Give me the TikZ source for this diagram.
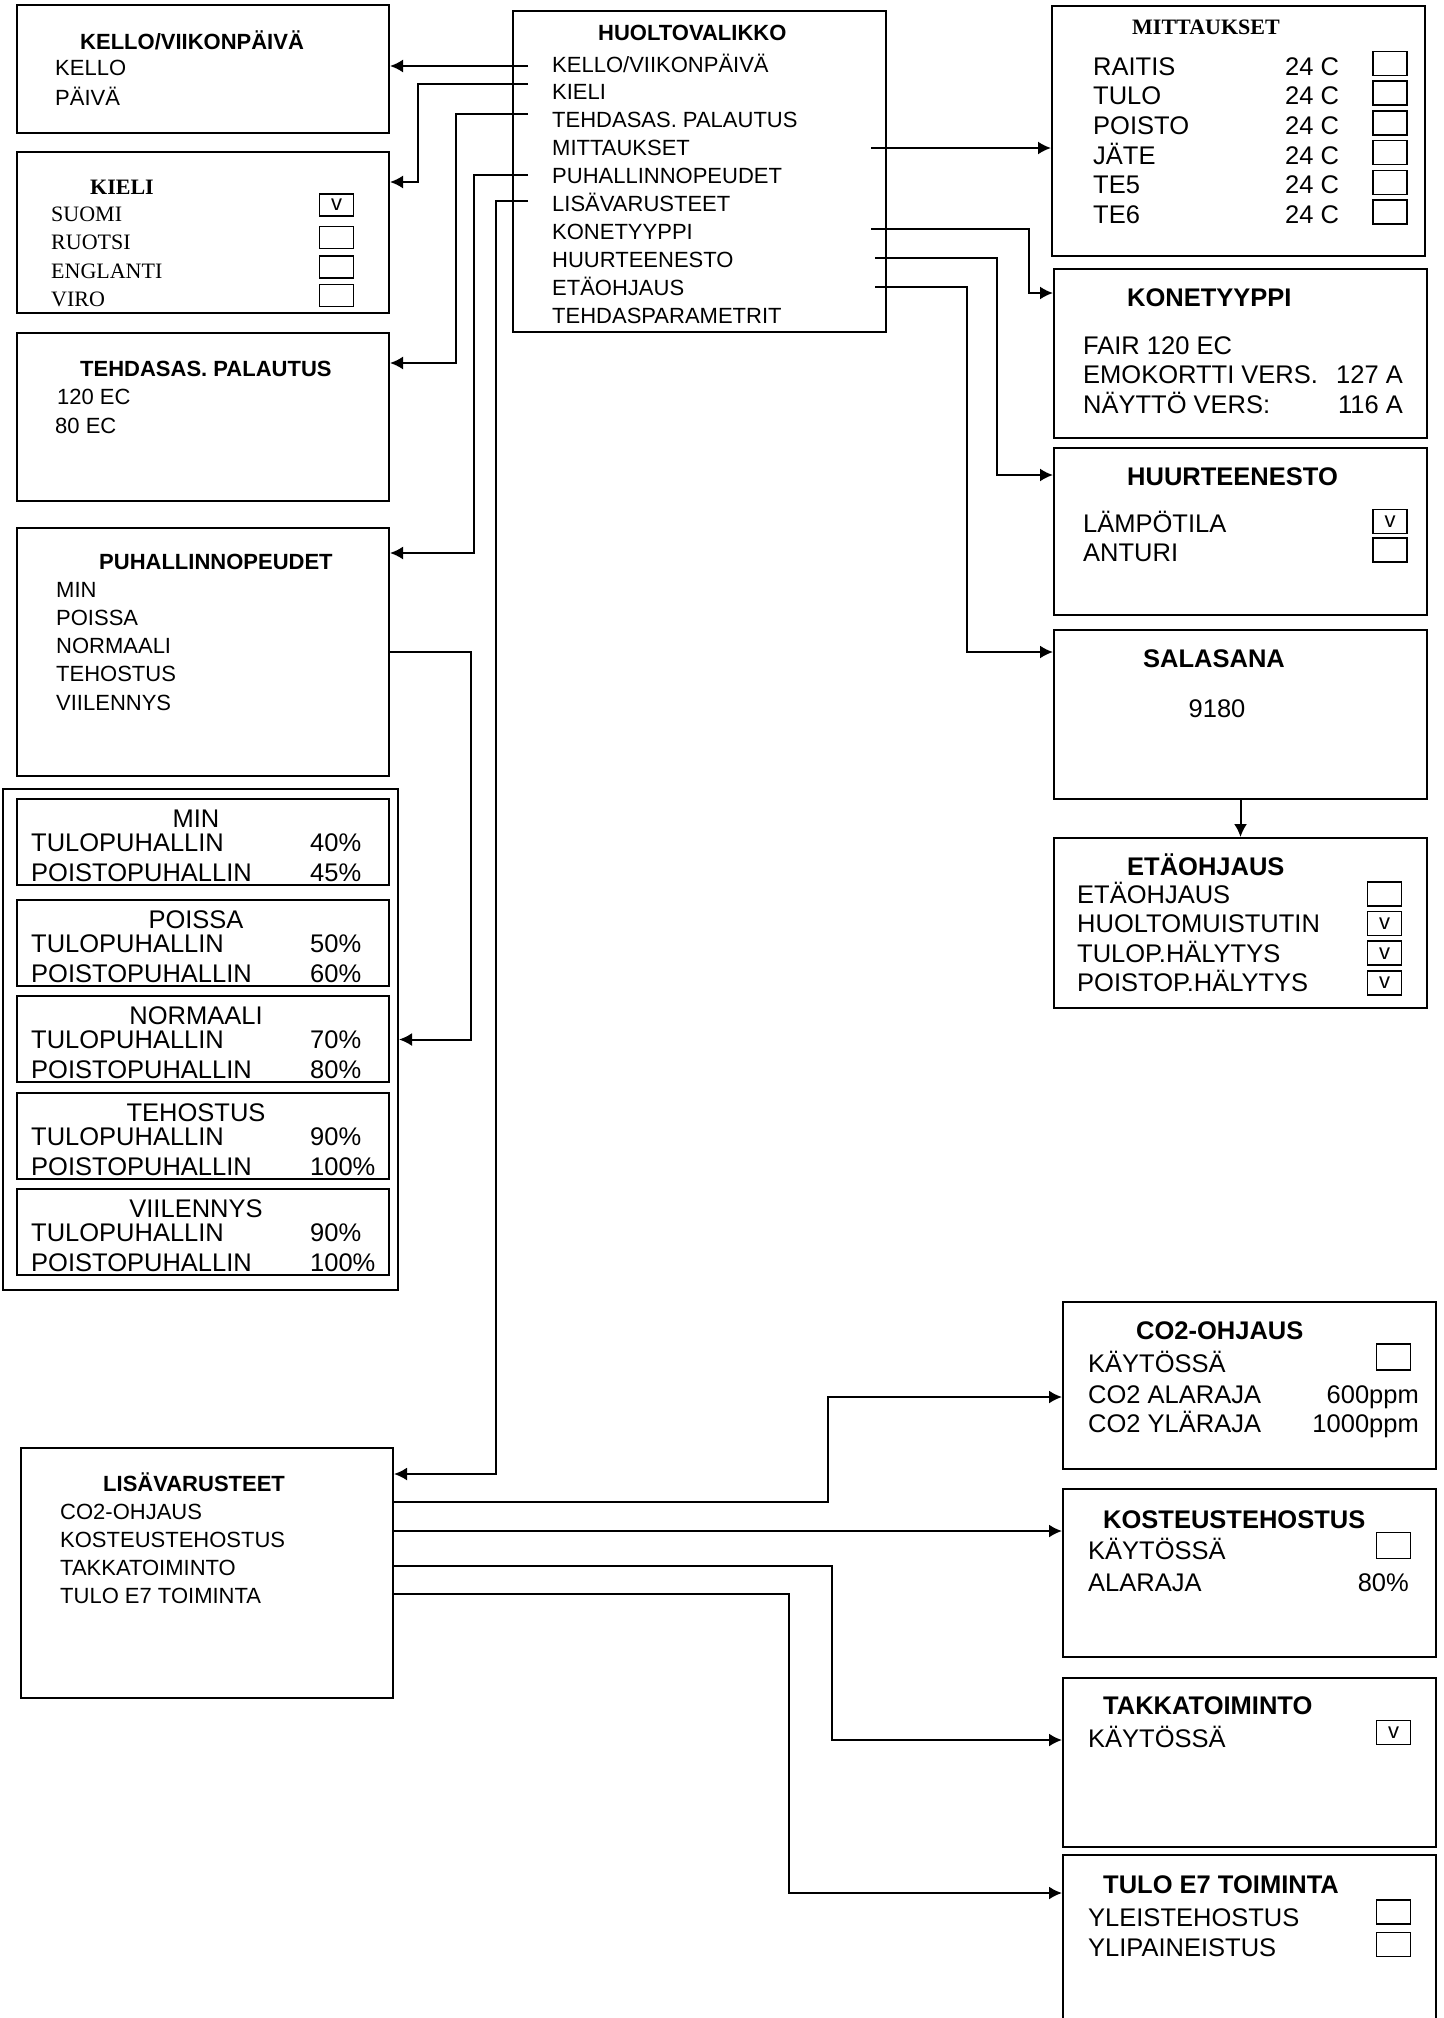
\documentclass[tikz,border=0pt]{standalone}
\usepackage{fontspec}
\setmainfont{Liberation Sans}
\newfontfamily\tms{Liberation Serif}
\usetikzlibrary{arrows.meta}

\tikzset{
	box/.style={draw,line width=2pt,inner sep=0pt},
	chk/.style={draw,line width=1.6pt,minimum width=34pt,minimum height=24pt,inner sep=0pt,font=\fontsize{22}{22}\selectfont},
	sm/.style={anchor=base west,inner sep=0pt,font=\fontsize{22}{26}\selectfont},
	lg/.style={anchor=base west,inner sep=0pt,font=\fontsize{25.5}{30}\selectfont},
	smt/.style={sm,font=\fontsize{22}{26}\selectfont\bfseries},
	lgt/.style={lg,font=\fontsize{25.5}{30}\selectfont\bfseries},
	ser/.style={sm,font=\fontsize{22}{26}\selectfont\tms},
	sert/.style={sm,font=\fontsize{22}{26}\selectfont\tms\bfseries},
	arr/.style={line width=2pt,-{Latex[length=13pt,width=13pt]}},
}

\begin{document}
\begin{tikzpicture}[x=1pt,y=-1pt]
	\useasboundingbox (0,0) rectangle (1443,2018);
	\begin{scope}
		\node[box,minimum width=372pt,minimum height=128pt] (kello) at (203,69) {};
		\node[smt] (kelloT) at (80,49) {KELLO/VIIKONPÄIVÄ};
		\node[sm] (kello1) at (55,76) {KELLO};
		\node[sm] (kello2) at (55,105) {PÄIVÄ};
		%
		\node[box,minimum width=372pt,minimum height=161pt] (kieli) at (203,232.5) {};
		\node[sert] (kieliT) at (90,194) {KIELI};
		\foreach \T/\Y [count=\i] in {SUOMI/221,RUOTSI/249,ENGLANTI/278,VIRO/306}
			\node[ser] (kieli\i) at (51,\Y) {\T};
		\foreach \Y/\V [count=\i] in {205/v,237.5/{},267/{},295.5/{}}
			\node[chk,minimum height=22pt] (kieliC\i) at (336.5,\Y) {\V};
		%
		\node[box,minimum width=372pt,minimum height=168pt] (tehdas) at (203,417) {};
		\node[smt] (tehdasT) at (80,376) {TEHDASAS. PALAUTUS};
		\node[sm] (tehdas1) at (57,404) {120 EC};
		\node[sm] (tehdas2) at (55,433) {80 EC};
		%
		\node[box,minimum width=372pt,minimum height=248pt] (puhal) at (203,652) {};
		\node[smt] (puhalT) at (99,569) {PUHALLINNOPEUDET};
		\foreach \T [count=\i from 0] in {MIN,POISSA,NORMAALI,TEHOSTUS,VIILENNYS}
			\node[sm] (puhal\i) at (56,597+28.25*\i) {\T};
		%
		\node[box,minimum width=395pt,minimum height=501pt] (speeds) at (200.5,1039.5) {};
		\foreach \N/\T/\A/\B [count=\i] in {MIN/799/40/45,POISSA/900/50/60,NORMAALI/996/70/80,TEHOSTUS/1093/90/100,VIILENNYS/1189/90/100}{
			\node[box,minimum width=372pt,minimum height=86pt] (sp\i) at (203,\T+43) {};
			\node[lg,anchor=base] (spT\i) at (196,\T+28) {\N};
			\node[lg] (spA\i) at (31,\T+52) {TULOPUHALLIN};
			\node[lg] (spB\i) at (31,\T+82) {POISTOPUHALLIN};
			\node[lg] (spAv\i) at (310,\T+52) {\A\%};
			\node[lg] (spBv\i) at (310,\T+82) {\B\%};
		}
		%
		\node[box,minimum width=372pt,minimum height=250pt] (lisa) at (207,1573) {};
		\node[smt] (lisaT) at (103,1491) {LISÄVARUSTEET};
		\foreach \T [count=\i from 0] in {CO2-OHJAUS,KOSTEUSTEHOSTUS,TAKKATOIMINTO,TULO E7 TOIMINTA}
			\node[sm] (lisa\i) at (60,1519+28*\i) {\T};
	\end{scope}
	\begin{scope}
		\node[box,minimum width=373pt,minimum height=321pt] (menu) at (699.5,171.5) {};
		\node[smt] (menuT) at (598,41) {HUOLTOVALIKKO};
		\foreach \T [count=\i from 0] in {KELLO/VIIKONPÄIVÄ,KIELI,TEHDASAS. PALAUTUS,MITTAUKSET,PUHALLINNOPEUDET,LISÄVARUSTEET,KONETYYPPI,HUURTEENESTO,ETÄOHJAUS,TEHDASPARAMETRIT}
			\node[sm] (menu\i) at (552,72+27.9*\i) {\T};
	\end{scope}
	\begin{scope}
		\node[box,minimum width=373pt,minimum height=250pt] (mitt) at (1238.5,131) {};
		\node[sert] (mittT) at (1132,35) {MITTAUKSET};
		\foreach \T [count=\i from 0] in {RAITIS,TULO,POISTO,JÄTE,TE5,TE6}{
			\node[lg] (mitt\i) at (1093,75+29.7*\i) {\T};
			\node[lg] (mittV\i) at (1285,75+29.7*\i) {24 C};
			\node[chk] (mittC\i) at (1390,63.5+29.7*\i) {};
		}
		%
		\node[box,minimum width=373pt,minimum height=169pt] (kone) at (1240.5,353.5) {};
		\node[lgt] (koneT) at (1127,306) {KONETYYPPI};
		\node[lg] (kone1) at (1083,354) {FAIR 120 EC};
		\node[lg] (kone2) at (1083,383) {EMOKORTTI VERS.};
		\node[lg] (kone3) at (1083,413) {NÄYTTÖ VERS:};
		\node[lg,anchor=base east] (koneV2) at (1403,383) {127 A};
		\node[lg,anchor=base east] (koneV3) at (1403,413) {116 A};
		%
		\node[box,minimum width=373pt,minimum height=167pt] (huurt) at (1240.5,531.5) {};
		\node[lgt] (huurtT) at (1127,485) {HUURTEENESTO};
		\node[lg] (huurt1) at (1083,532) {LÄMPÖTILA};
		\node[lg] (huurt2) at (1083,561) {ANTURI};
		\node[chk] (huurtC1) at (1390,521.5) {v};
		\node[chk] (huurtC2) at (1390,550) {};
		%
		\node[box,minimum width=373pt,minimum height=169pt] (sala) at (1240.5,714.5) {};
		\node[lgt] (salaT) at (1143,667) {SALASANA};
		\node[lg,anchor=base] (sala1) at (1217,717) {9180};
		%
		\node[box,minimum width=373pt,minimum height=170pt] (eta) at (1240.5,923) {};
		\node[lgt] (etaT) at (1127,875) {ETÄOHJAUS};
		\foreach \T/\V [count=\i from 0] in {ETÄOHJAUS/{},HUOLTOMUISTUTIN/v,TULOP.HÄLYTYS/v,POISTOP.HÄLYTYS/v}{
			\node[lg] (eta\i) at (1077,903+29.6*\i) {\T};
			\node[chk] (etaC\i) at (1384.5,894+29.6*\i) {\V};
		}
		%
		\node[box,minimum width=373pt,minimum height=167pt] (co2) at (1249.5,1385.5) {};
		\node[lgt] (co2T) at (1136,1339) {CO2-OHJAUS};
		\node[lg] (co21) at (1088,1372) {KÄYTÖSSÄ};
		\node[lg] (co22) at (1088,1403) {CO2 ALARAJA};
		\node[lg] (co23) at (1088,1432) {CO2 YLÄRAJA};
		\node[lg,anchor=base east] (co2V2) at (1419,1403) {600ppm};
		\node[lg,anchor=base east] (co2V3) at (1419,1432) {1000ppm};
		\node[chk,minimum height=26pt] (co2C1) at (1393.5,1357) {};
		%
		\node[box,minimum width=373pt,minimum height=168pt] (kost) at (1249.5,1573) {};
		\node[lgt] (kostT) at (1103,1528) {KOSTEUSTEHOSTUS};
		\node[lg] (kost1) at (1088,1559) {KÄYTÖSSÄ};
		\node[lg] (kost2) at (1088,1591) {ALARAJA};
		\node[lg,anchor=base east] (kostV2) at (1409,1591) {80\%};
		\node[chk,minimum height=26pt] (kostC1) at (1393.5,1545.5) {};
		%
		\node[box,minimum width=373pt,minimum height=169pt] (takka) at (1249.5,1762.5) {};
		\node[lgt] (takkaT) at (1103,1714) {TAKKATOIMINTO};
		\node[lg] (takka1) at (1088,1747) {KÄYTÖSSÄ};
		\node[chk] (takkaC1) at (1393.5,1732.5) {v};
		%
		\node[box,minimum width=373pt,minimum height=180pt] (tulo) at (1249.5,1945) {};
		\node[lgt] (tuloT) at (1103,1893) {TULO E7 TOIMINTA};
		\node[lg] (tulo1) at (1088,1926) {YLEISTEHOSTUS};
		\node[lg] (tulo2) at (1088,1956) {YLIPAINEISTUS};
		\node[chk] (tuloC1) at (1393.5,1912) {};
		\node[chk] (tuloC2) at (1393.5,1944.5) {};
	\end{scope}
	%
	\coordinate (mKello) at (528,66);
	\coordinate (mKieli) at (528,84);
	\coordinate (mTehdas) at (528,114);
	\coordinate (mPuhal) at (528,175);
	\coordinate (mLisa) at (528,201);
	\coordinate (mMitt) at (871,148);
	\coordinate (mKone) at (871,229);
	\coordinate (mHuurt) at (875,258);
	\coordinate (mEta) at (875,287);
	\coordinate (kieliIn) at ([yshift=-31pt]kieli.north east);
	\coordinate (tehdasIn) at ([yshift=-31pt]tehdas.north east);
	\coordinate (puhalIn) at ([yshift=-26pt]puhal.north east);
	\coordinate (lisaIn) at ([yshift=-27pt]lisa.north east);
	\coordinate (koneIn) at ([yshift=-25pt]kone.north west);
	\coordinate (huurtIn) at ([yshift=-28pt]huurt.north west);
	\coordinate (salaIn) at ([yshift=-23pt]sala.north west);
	\coordinate (co2In) at ([yshift=-96pt]co2.north west);
	\coordinate (takkaIn) at ([yshift=-63pt]takka.north west);
	\coordinate (tuloIn) at ([yshift=-39pt]tulo.north west);
	\coordinate (co2Out) at ([yshift=-55pt]lisa.north east);
	\coordinate (kostOut) at ([yshift=-84pt]lisa.north east);
	\coordinate (takkaOut) at ([yshift=-119pt]lisa.north east);
	\coordinate (tuloOut) at ([yshift=-147pt]lisa.north east);
	%
	\draw[arr] (mKello) -- (kello.east |- mKello);
	\draw[arr] (mMitt) -- (mitt.west |- mMitt);
	\draw[arr] (kostOut) -- (kost.west |- kostOut);
	\draw[arr] (sala.south) -- (eta.north);
	\foreach \S/\X/\E in {mKieli/418/kieliIn, mTehdas/456/tehdasIn, mPuhal/474/puhalIn, mLisa/496/lisaIn,
		puhal.east/471/speeds.east, mKone/1029/koneIn, mHuurt/997/huurtIn, mEta/967/salaIn,
		co2Out/828/co2In, takkaOut/832/takkaIn, tuloOut/789/tuloIn}
		\draw[arr] (\S) -| (\X,0 |- \E) -- (\E);
\end{tikzpicture}
\end{document}
